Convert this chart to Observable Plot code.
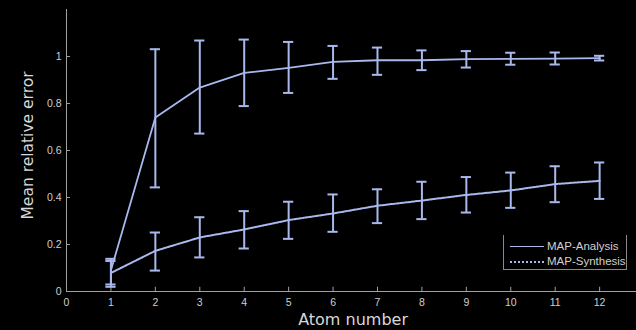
<!DOCTYPE html>
<html>
<head>
<meta charset="utf-8">
<script src="https://cdn.jsdelivr.net/npm/d3@7"></script>
<script src="https://cdn.jsdelivr.net/npm/@observablehq/plot@0.6"></script>
<style>
  html, body { margin: 0; padding: 0; background: #000; }
  #wrap { position: relative; width: 636px; height: 330px; overflow: hidden; background: #000; }
  #legend { position: absolute; left: 503px; top: 235px; width: 122px; height: 34px;
    border: 1px solid #8a8a8a; border-top: none; font-family: "Liberation Sans", Arial, sans-serif;
    font-size: 11.5px; color: #d0d0d0; }
  .row { position: absolute; left: 6px; display: flex; align-items: center; line-height: 13px; }
  .sw { width: 34px; height: 0; margin-right: 3px; }
</style>
</head>
<body>
<div id="wrap"></div>
<script>
const atoms = [1, 2, 3, 4, 5, 6, 7, 8, 9, 10, 11, 12];
const analysisMean = [0.09, 0.74, 0.868, 0.93, 0.952, 0.977, 0.984, 0.984, 0.989, 0.99, 0.991, 0.993];
const analysisLo   = [0.02, 0.443, 0.672, 0.789, 0.845, 0.905, 0.922, 0.942, 0.953, 0.965, 0.966, 0.983];
const analysisHi   = [0.139, 1.031, 1.068, 1.072, 1.062, 1.045, 1.038, 1.026, 1.023, 1.016, 1.017, 1.003];
const synthMean = [0.079, 0.173, 0.23, 0.264, 0.304, 0.332, 0.365, 0.387, 0.411, 0.43, 0.457, 0.471];
const synthLo   = [0.03, 0.089, 0.145, 0.183, 0.224, 0.254, 0.291, 0.308, 0.336, 0.356, 0.38, 0.394];
const synthHi   = [0.13, 0.251, 0.316, 0.342, 0.382, 0.413, 0.435, 0.467, 0.487, 0.506, 0.533, 0.549];
const xTicks = [0, 1, 2, 3, 4, 5, 6, 7, 8, 9, 10, 11, 12];
const yTicks = [0, 0.2, 0.4, 0.6, 0.8, 1];
const yTickLabels = ["0", "0.2", "0.4", "0.6", "0.8", "1"];
const seriesNames = ["MAP-Analysis", "MAP-Synthesis"];

const analysis = atoms.map((x, i) => ({x, m: analysisMean[i], lo: analysisLo[i], hi: analysisHi[i]}));
const synth = atoms.map((x, i) => ({x, m: synthMean[i], lo: synthLo[i], hi: synthHi[i]}));
const all = analysis.concat(synth);

const col = "#a9b9ee";
const axisCol = "#a0a0a0";
const capHalf = 0.115;

const chart = Plot.plot({
  width: 636,
  height: 330,
  marginLeft: 66,
  marginRight: 0,
  marginTop: 9,
  marginBottom: 39,
  style: { background: "#000", color: "#cfcfcf", fontFamily: "Liberation Sans, Arial, sans-serif", fontSize: "10px" },
  x: { domain: [0, 12.83] },
  y: { domain: [0, 1.2] },
  marks: [
    Plot.ruleY([0], { stroke: axisCol }),
    Plot.ruleX([0], { stroke: axisCol }),
    Plot.ruleX(xTicks, { x: d => d, y1: 0, y2: 0.018, stroke: axisCol }),
    Plot.ruleY(yTicks, { y: d => d, x1: 0, x2: 0.09, stroke: axisCol }),
    Plot.axisX({ ticks: xTicks, tickSize: 0, tickPadding: 7, fill: "#cfcfcf", fontSize: 10.5, label: null }),
    Plot.axisY({ ticks: yTicks, tickSize: 0, tickPadding: 5, tickFormat: (d, i) => yTickLabels[i], fill: "#cfcfcf", fontSize: 10.5, label: null }),
    Plot.line(analysis, { x: "x", y: "m", stroke: col, strokeWidth: 1.8 }),
    Plot.line(synth, { x: "x", y: "m", stroke: col, strokeWidth: 2, strokeDasharray: "2.5,1.2" }),
    Plot.ruleX(all, { x: "x", y1: "lo", y2: "hi", stroke: col, strokeWidth: 2 }),
    Plot.ruleY(all, { y: "hi", x1: d => d.x - capHalf, x2: d => d.x + capHalf, stroke: col, strokeWidth: 2 }),
    Plot.ruleY(all, { y: "lo", x1: d => d.x - capHalf, x2: d => d.x + capHalf, stroke: col, strokeWidth: 2 }),
    Plot.text(["Atom number"], { x: 6.45, y: 0, dy: 33, frameAnchor: "bottom", text: d => d, fill: "#d8d8d8", fontSize: 16, fontFamily: "DejaVu Sans, sans-serif" }),
    Plot.text(["Mean relative error"], { frameAnchor: "left", textAnchor: "middle", dx: -38, dy: -5, rotate: -90, text: d => d, fill: "#d8d8d8", fontSize: 15.5, fontFamily: "DejaVu Sans, sans-serif" })
  ]
});

const wrap = document.getElementById("wrap");
wrap.appendChild(chart);

const legend = document.createElement("div");
legend.id = "legend";
legend.innerHTML = `
  <div class="row" style="top:5px"><div class="sw" style="border-top:1.5px solid ${col}"></div><span>${seriesNames[0]}</span></div>
  <div class="row" style="top:20px"><div class="sw" style="border-top:2px dotted ${col}"></div><span>${seriesNames[1]}</span></div>`;
wrap.appendChild(legend);
</script>
</body>
</html>
